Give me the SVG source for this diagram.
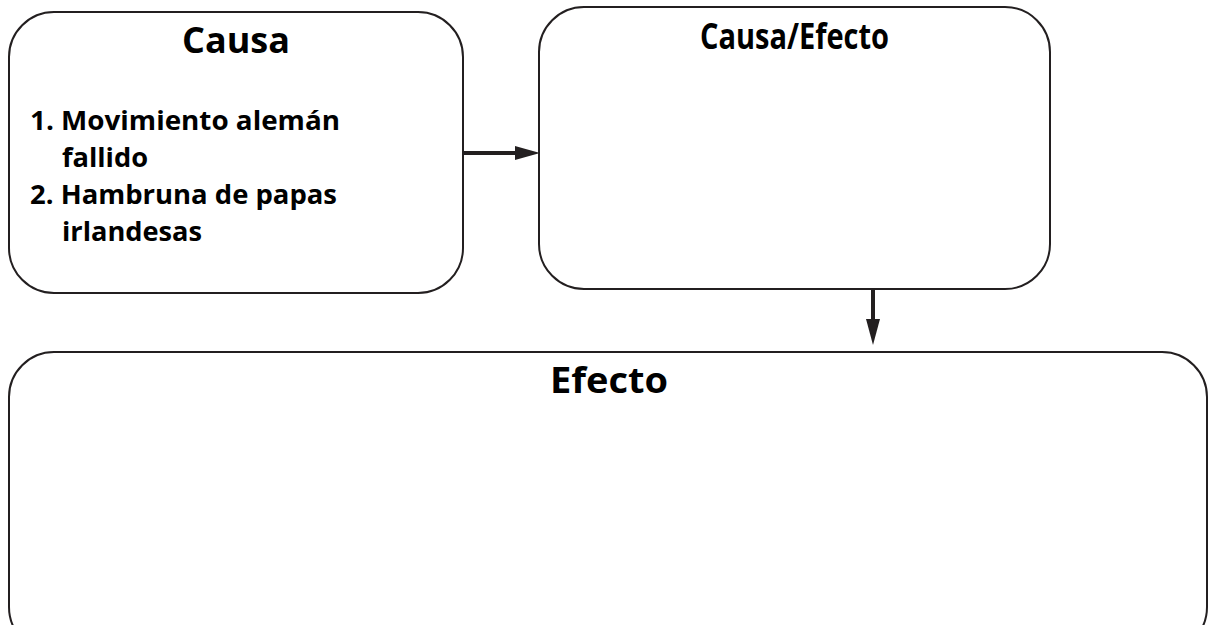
<svg xmlns="http://www.w3.org/2000/svg" width="1208" height="625" viewBox="0 0 1208 625">
<style>
.box{fill:#fff;stroke:#231f20;stroke-width:2}
.title{font-family:"Open Sans","Liberation Sans",sans-serif;font-weight:700;font-size:36px;fill:#000;text-anchor:middle}
.item{font-family:"Open Sans","Liberation Sans",sans-serif;font-weight:700;font-size:27.5px;fill:#000}
.conn{stroke:#231f20;stroke-width:4;fill:none}
.head{fill:#231f20}
</style>
<rect width="1208" height="625" fill="#fff"/>
<g id="node-causa">
<rect class="box" x="9" y="12" width="454" height="281" rx="45" ry="45"/>
<text class="title" x="236" y="53" textLength="108" lengthAdjust="spacingAndGlyphs">Causa</text>
<text class="item" x="30" y="130" textLength="310" lengthAdjust="spacingAndGlyphs">1. Movimiento alemán</text>
<text class="item" x="62" y="167" textLength="86" lengthAdjust="spacingAndGlyphs">fallido</text>
<text class="item" x="30" y="204" textLength="307" lengthAdjust="spacingAndGlyphs">2. Hambruna de papas</text>
<text class="item" x="62" y="241" textLength="140" lengthAdjust="spacingAndGlyphs">irlandesas</text>
</g>
<g id="node-causa-efecto">
<rect class="box" x="539" y="7" width="511" height="282" rx="45" ry="45"/>
<text class="title" x="794.5" y="49" textLength="189" lengthAdjust="spacingAndGlyphs">Causa/Efecto</text>
</g>
<g id="node-efecto">
<rect class="box" x="9" y="352" width="1198" height="300" rx="45" ry="45"/>
<text class="title" x="609" y="393" textLength="118" lengthAdjust="spacingAndGlyphs">Efecto</text>
</g>
<g id="connectors">
<line class="conn" x1="463" y1="153" x2="518" y2="153"/>
<polygon class="head" points="515,146 540,153 515,160"/>
<line class="conn" x1="873" y1="289" x2="873" y2="322"/>
<polygon class="head" points="866,319 873,345 880,319"/>
</g>
</svg>
